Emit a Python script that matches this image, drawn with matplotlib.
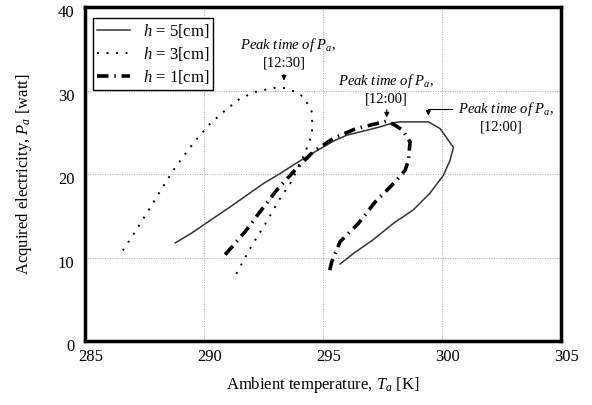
import matplotlib
matplotlib.use("Agg")
import matplotlib.pyplot as plt
import matplotlib.transforms as mtransforms

# fonts: Times-like serif
plt.rcParams['font.family'] = ['Liberation Serif', 'DejaVu Serif']
plt.rcParams['mathtext.fontset'] = 'custom'
plt.rcParams['mathtext.rm'] = 'Liberation Serif'
plt.rcParams['mathtext.it'] = 'Liberation Serif:italic'
plt.rcParams['mathtext.bf'] = 'Liberation Serif:bold'

# h = 5 cm (solid)
Ta_h5 = [288.8, 289.5, 290.4, 291.1, 291.8, 292.5, 293.2, 293.8, 294.6, 295.45,
         296.0, 296.85, 297.4, 297.97, 298.25, 299.44, 299.93, 300.49, 300.35,
         300.07, 299.5, 298.8, 297.97, 297.1, 296.3, 295.73]
Pa_h5 = [11.8, 13.0, 14.75, 16.1, 17.5, 18.9, 20.1, 21.2, 22.6, 24.0,
         24.7, 25.3, 25.7, 26.2, 26.3, 26.3, 25.5, 23.25, 21.7,
         19.9, 17.75, 15.75, 14.15, 12.15, 10.56, 9.28]

# h = 3 cm (dotted)
Ta_h3 = [286.6, 287.02, 287.44, 287.86, 288.28, 288.72, 289.18, 289.66, 290.26,
         290.87, 291.53, 292.18, 292.83, 293.16, 293.49, 293.84, 294.14, 294.38,
         294.55, 294.56, 294.52, 294.4, 294.12, 293.63, 293.2, 292.6, 292.0, 291.27]
Pa_h3 = [10.9, 12.7, 14.6, 16.55, 18.5, 20.5, 22.3, 24.1, 26.05,
         27.6, 29.1, 29.9, 30.3, 30.45, 30.3, 29.9, 29.4, 28.4,
         27.45, 25.5, 24.6, 23.65, 21.7, 18.9, 17.1, 14.15, 11.4, 7.6]

# h = 1 cm (dash-dot)
Ta_h1 = [290.9, 291.74, 292.37, 293.07, 293.84, 294.6, 295.45, 296.4, 297.27,
         297.7, 298.04, 298.36, 298.67, 298.6, 298.46, 298.04, 297.2, 296.5,
         295.73, 295.38, 295.28]
Pa_h1 = [10.4, 13.15, 15.55, 18.14, 20.54, 22.73, 24.33, 25.5, 26.1,
         26.4, 25.9, 25.3, 23.9, 21.7, 20.5, 19.1, 16.7, 14.15,
         11.95, 9.56, 8.36]

x_ticks = [285, 290, 295, 300, 305]
y_ticks = [0, 10, 20, 30, 40]

peak_times = ['[12:30]', '[12:00]', '[12:00]']

fig = plt.figure(figsize=(5.92, 4.05), dpi=100)
ax = fig.add_axes([0.1431, 0.1568, 0.8041, 0.8247])

ax.plot(Ta_h5, Pa_h5, color='#333333', linewidth=1.1, linestyle='-', label='$h$ = 5[cm]')
ax.plot(Ta_h3, Pa_h3, color='black', linewidth=1.4, linestyle=(0, (1, 3.9)),
        label='$h$ = 3[cm]')
ax.plot(Ta_h1, Pa_h1, color='black', linewidth=2.6, linestyle=(0, (3.2, 1.6, 0.4, 1.6)),
        dash_capstyle='butt', label='$h$ = 1[cm]')

ax.set_xlim(285, 305)
ax.set_ylim(0, 40)
ax.set_xticks(x_ticks)
ax.set_yticks(y_ticks)
ax.tick_params(axis='both', length=0, labelsize=12)
ax.tick_params(axis='x', pad=5.5)
ax.tick_params(axis='y', pad=7.5)

ax.grid(True, color='#aaaaaa', linestyle=(0, (1, 1.5)), linewidth=0.7)
for sp in ax.spines.values():
    sp.set_linewidth(2.5)
    sp.set_color('black')

ax.set_xlabel('Ambient temperature, $T_a$ [K]', fontsize=12, labelpad=7)
ax.set_ylabel('Acquired electricity, $P_a$ [watt]', fontsize=12, labelpad=17)

# scanned tick labels sit a bit off their ticks
dx = mtransforms.ScaledTranslation(0.06, 0, fig.dpi_scale_trans)
dy = mtransforms.ScaledTranslation(0, -0.04, fig.dpi_scale_trans)
for lab in ax.get_xticklabels():
    lab.set_transform(lab.get_transform() + dx)
for lab in ax.get_yticklabels():
    lab.set_transform(lab.get_transform() + dy)

leg = ax.legend(loc='upper left', bbox_to_anchor=(0.017, 0.969), borderaxespad=0,
                fontsize=12, frameon=True, fancybox=False, edgecolor='black',
                framealpha=1, handlelength=2.0, handletextpad=0.75,
                labelspacing=0.3, borderpad=0.25)
leg.get_frame().set_linewidth(1.0)

# peak time annotations (italic title line, upright time line)
arr = dict(arrowstyle='-|>', color='black', lw=0.8, mutation_scale=7)

ax.text(293.52, 35.5, 'Peak time of $P_a$,', ha='center', va='center',
        fontsize=10.5, style='italic')
ax.text(293.37, 33.3, peak_times[0], ha='center', va='center', fontsize=10.5)
ax.annotate('', xy=(293.37, 30.9), xytext=(293.37, 32.3), arrowprops=arr)

ax.text(297.65, 31.2, 'Peak time of $P_a$,', ha='center', va='center',
        fontsize=10.5, style='italic')
ax.text(297.69, 29.04, peak_times[1], ha='center', va='center', fontsize=10.5)
ax.annotate('', xy=(297.69, 26.5), xytext=(297.69, 28.1), arrowprops=arr)

ax.text(302.7, 27.84, 'Peak time of $P_a$,', ha='center', va='center',
        fontsize=10.5, style='italic')
ax.text(302.49, 25.65, peak_times[2], ha='center', va='center', fontsize=10.5)
ax.plot([300.42, 299.44], [27.8, 27.8], color='black', linewidth=0.8)
ax.annotate('', xy=(299.44, 26.7), xytext=(299.44, 27.8), arrowprops=arr)

fig.savefig('out.png', dpi=100)
